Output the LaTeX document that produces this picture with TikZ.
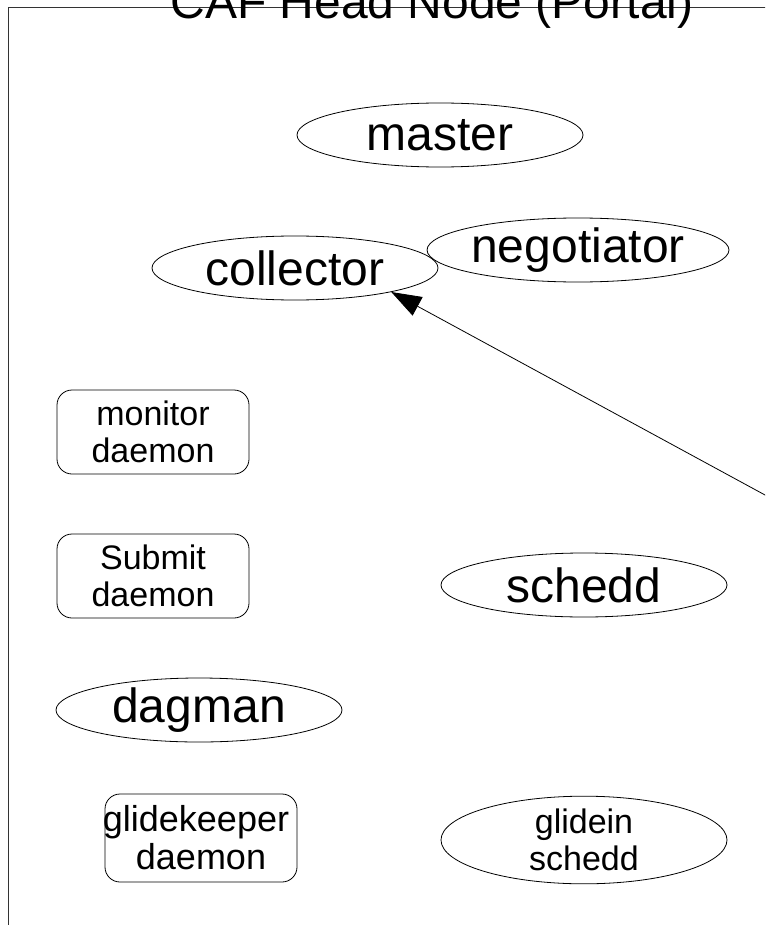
\documentclass[tikz,border=0pt]{standalone}
\usepackage{fontspec}
\setmainfont{Liberation Sans}
\usetikzlibrary{shapes.geometric,arrows.meta}
\begin{document}
\begin{tikzpicture}[x=1pt,y=-1pt,
  oval/.style={draw,ellipse,line width=0.8pt,minimum width=286pt,minimum height=64pt,inner sep=0pt,font=\fontsize{48}{50}\selectfont},
  smalloval/.style={oval,align=center,font=\fontsize{34}{37}\selectfont},
  roundbox/.style={draw,line width=0.8pt,rounded corners=15pt,minimum width=192pt,minimum height=84pt,inner sep=0pt,align=center,font=\fontsize{34}{37}\selectfont},
  frame/.style={draw=black!80,line width=1.2pt},
  conn/.style={line width=0.8pt,-{Triangle[length=30pt,width=21pt]}}
]
\useasboundingbox (0,0) rectangle (765,925);
\clip (0,0) rectangle (765,925);
\fill[white] (0,0) rectangle (765,925);
\draw[frame] (8.5,7.5) rectangle (900,1000);
\node[anchor=base,inner sep=0pt,font=\fontsize{48}{50}\selectfont] (title) at (432,18.5) {CAF Head Node (Portal)};
\node[oval] (master) at (440,135) {master};
\node[oval] (collector) at (295,268) {collector};
\node[oval] (negotiator) at (578,250) {negotiator};
\node[oval] (schedd) at (584,585) {schedd};
\node[oval] (dagman) at (199,710) {dagman};
\node[smalloval] (gschedd) at (584,840) {glidein\\schedd};
\node[roundbox] (monitor) at (153,432) {monitor\\daemon};
\node[roundbox] (submit) at (153,576) {Submit\\daemon};
\node[roundbox,minimum height=88pt,font=\fontsize{36}{38}\selectfont] (gkeeper) at (201,838) {\makebox[0pt]{\hspace*{-10pt}glidekeeper}\\\makebox[0pt]{daemon}};
\coordinate (src) at (800,514);
\draw[conn] (src) -- (collector.-14.5);
\end{tikzpicture}
\end{document}
